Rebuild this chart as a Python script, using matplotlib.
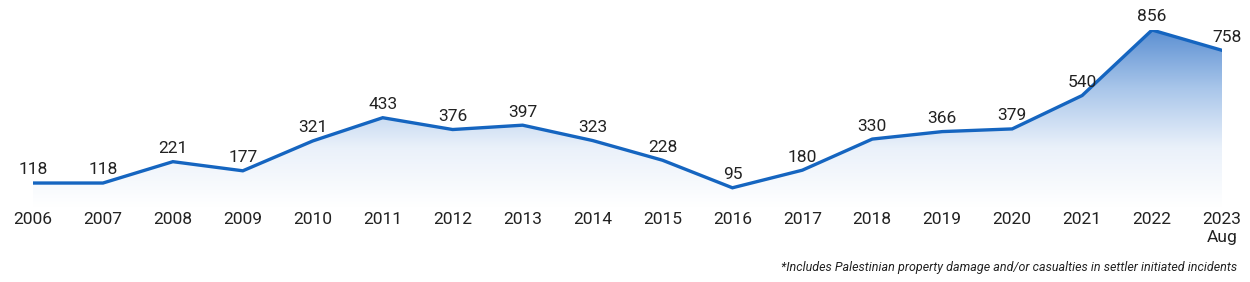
import numpy as np
import matplotlib.pyplot as plt
from matplotlib.colors import LinearSegmentedColormap
from matplotlib.patches import Polygon

years = ['2006', '2007', '2008', '2009', '2010', '2011', '2012', '2013', '2014',
         '2015', '2016', '2017', '2018', '2019', '2020', '2021', '2022', '2023\nAug']
values = [118, 118, 221, 177, 321, 433, 376, 397, 323, 228, 95, 180, 330, 366, 379, 540, 856, 758]
note = '*Includes Palestinian property damage and/or casualties in settler initiated incidents'

plt.rcParams['font.family'] = ['Roboto', 'DejaVu Sans']
line_col = '#1565c0'

fig = plt.figure(figsize=(12.5, 2.82), dpi=100)
ax = fig.add_axes([33/1250, 1-207.5/282, 1189/1250, 177.5/282])
x = np.arange(len(values))
ax.set_xlim(0, len(values)-1)
ax.set_ylim(0, 856)

# gradient fill under the line
cmap = LinearSegmentedColormap.from_list('g', ['#ffffff', '#eaf1fa', '#a9c6ea', '#5b8fd2'], N=256)
grad = np.linspace(0, 1, 256).reshape(-1, 1)
im = ax.imshow(grad, cmap=cmap, aspect='auto', origin='lower',
               extent=[0, len(values)-1, 0, 856], zorder=1)
poly = Polygon(np.column_stack([np.r_[x, x[-1], x[0]], np.r_[values, 0, 0]]),
               closed=True, facecolor='none', edgecolor='none')
ax.add_patch(poly)
im.set_clip_path(poly)

ax.plot(x, values, color=line_col, lw=2.4, zorder=3, solid_joinstyle='miter')

for i, (xi, v) in enumerate(zip(x, values)):
    dx = 4 if i == len(values)-1 else 0
    ax.annotate(str(v), (xi, v), xytext=(dx, 4), textcoords='offset points',
                ha='center', va='bottom', fontsize=12.5, color='#222222',
                annotation_clip=False)

for xi, lab in zip(x, years):
    ax.text(xi, -20, lab, ha='center', va='top', fontsize=12.5, color='#222222',
            linespacing=1.3)

ax.axis('off')

fig.text(1237/1250, 1-268/282, note, ha='right', va='center', fontsize=9,
         style='italic', color='#222222')

fig.savefig('out.png', dpi=100)
